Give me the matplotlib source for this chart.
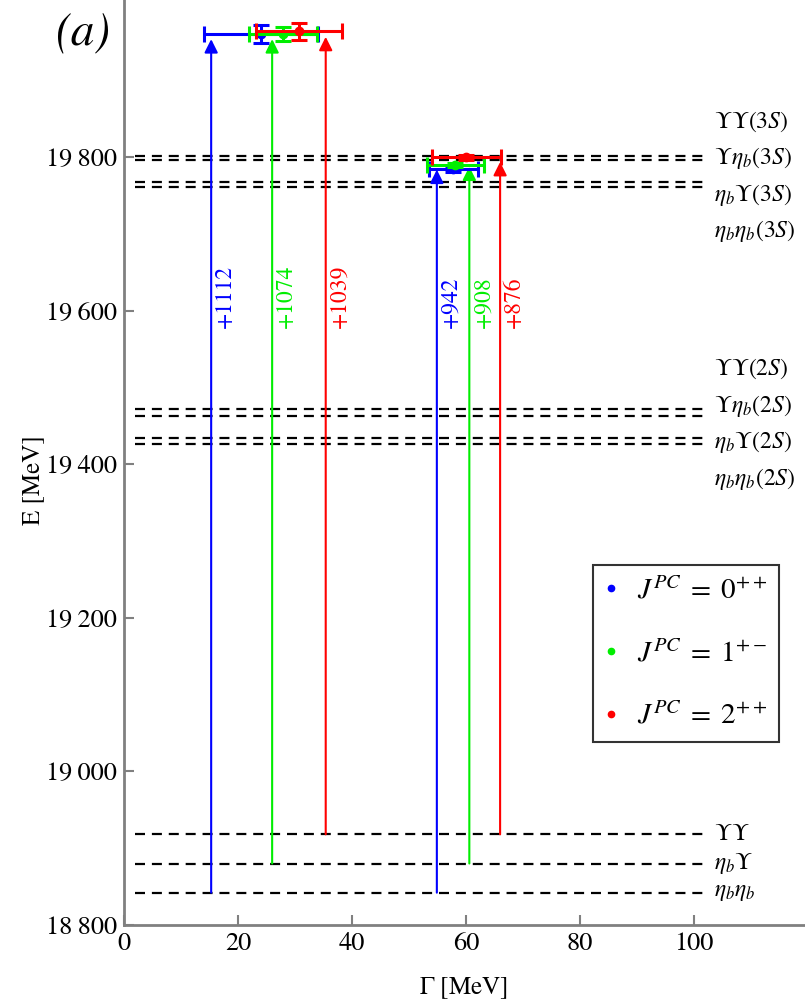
import matplotlib
matplotlib.use('Agg')
import matplotlib.pyplot as plt
from matplotlib.lines import Line2D
from matplotlib.ticker import FuncFormatter

plt.rcParams['font.family'] = ['STIXGeneral', 'DejaVu Serif']
plt.rcParams['mathtext.fontset'] = 'stix'

# colours for J^PC = 0++, 1+-, 2++
colors = ['#0000ff', '#00ee00', '#ff0000']
legend_labels = [r'$J^{PC}\;=\;0^{++}$', r'$J^{PC}\;=\;1^{+-}$', r'$J^{PC}\;=\;2^{++}$']

# thresholds (MeV)
thr1_names = [r'$\eta_b\eta_b$', r'$\eta_b\Upsilon$', r'$\Upsilon\Upsilon$']
thr1_E = [18842, 18880, 18918]
thr2_names = [r'$\Upsilon\Upsilon(2S)$', r'$\Upsilon\eta_b(2S)$', r'$\eta_b\Upsilon(2S)$', r'$\eta_b\eta_b(2S)$']
thr2_E = [19472, 19463, 19434, 19426]
thr3_names = [r'$\Upsilon\Upsilon(3S)$', r'$\Upsilon\eta_b(3S)$', r'$\eta_b\Upsilon(3S)$', r'$\eta_b\eta_b(3S)$']
thr3_E = [19802, 19797, 19768, 19762]

# upper states
g1_gamma = [24.0, 27.9, 30.7]
g1_gamma_err = [10.0, 5.9, 7.5]
g1_E = [19961, 19961, 19964]
g1_E_err = [12, 9, 11]
g1_shift = [1112, 1074, 1039]
g1_arrow_x = [15.3, 26.0, 35.4]

# lower states
g2_gamma = [57.8, 58.1, 60.1]
g2_gamma_err = [4.3, 5.0, 6.0]
g2_E = [19785, 19790, 19800]
g2_E_err = [4, 2, 3]
g2_shift = [942, 908, 876]
g2_arrow_x = [54.9, 60.6, 66.0]

fig = plt.figure(figsize=(8.05, 10.01), dpi=100)
ax = fig.add_axes([0.154, 0.076, 0.846, 0.924])

# dashed threshold lines
for E in thr1_E + thr2_E + thr3_E:
    ax.plot([2, 101.6], [E, E], color='k', lw=1.6, ls=(0, (4.5, 3.1)))

lab_x = 103.6
for name, E in zip(thr1_names, thr1_E):
    ax.text(lab_x, E, name, fontsize=17, va='center', ha='left')
for names, Es, off in [(thr2_names, thr2_E, 4), (thr3_names, thr3_E, -7)]:
    c = sum(Es) / len(Es) + off
    for k, name in enumerate(names):
        ax.text(lab_x, c + (1.5 - k) * 47.5, name, fontsize=17, va='center', ha='left')

# arrows from thresholds
for xs, shifts in [(g1_arrow_x, g1_shift), (g2_arrow_x, g2_shift)]:
    for i in range(3):
        ax.annotate('', xy=(xs[i], thr1_E[i] + shifts[i]), xytext=(xs[i], thr1_E[i]),
                    arrowprops=dict(arrowstyle='-|>', color=colors[i], lw=1.5,
                                    mutation_scale=20, shrinkA=0, shrinkB=0))
        ax.text(xs[i] + 0.6, 19578, '+%d' % shifts[i], rotation=90, color=colors[i],
                ha='left', va='bottom', fontsize=17)

# states with errors
for gam, gerr, E, Eerr in [(g1_gamma, g1_gamma_err, g1_E, g1_E_err),
                           (g2_gamma, g2_gamma_err, g2_E, g2_E_err)]:
    for i in range(3):
        ax.errorbar(gam[i], E[i], xerr=gerr[i], yerr=Eerr[i], color=colors[i],
                    fmt='o', ms=6, lw=2.2, capsize=6, capthick=2.2, zorder=3 + i)

ax.set_xlim(0, 119.5)
ax.set_ylim(18800, 20005)
ax.set_xticks([0, 20, 40, 60, 80, 100])
ax.set_yticks([18800, 19000, 19200, 19400, 19600, 19800])
ax.yaxis.set_major_formatter(FuncFormatter(lambda v, p: '%d\u2009%03d' % (v // 1000, v % 1000)))
for s in ['top', 'right']:
    ax.spines[s].set_visible(False)
for s in ['left', 'bottom']:
    ax.spines[s].set_color('#808080')
    ax.spines[s].set_linewidth(2)
ax.tick_params(direction='in', length=7, width=1.5, color='#808080', labelsize=19, pad=5)

handles = [Line2D([], [], marker='o', ls='none', color=c, ms=4.5) for c in colors]
leg = ax.legend(handles, legend_labels, loc='upper right', bbox_to_anchor=(0.962, 0.389),
                borderaxespad=0, fontsize=21, frameon=True, fancybox=False,
                edgecolor='k', labelspacing=1.2, handlelength=0.4, handletextpad=0.7,
                borderpad=0.4)
leg.get_frame().set_linewidth(1.5)

fig.text(0.103, 0.966, '(a)', fontsize=34, style='italic', ha='center', va='center')
fig.text(0.041, 0.52, 'E [MeV]', fontsize=18, rotation=90, ha='center', va='center')
fig.text(0.575, 0.013, r'$\Gamma$ [MeV]', fontsize=18, ha='center', va='center')

fig.savefig('out.png', dpi=100)
